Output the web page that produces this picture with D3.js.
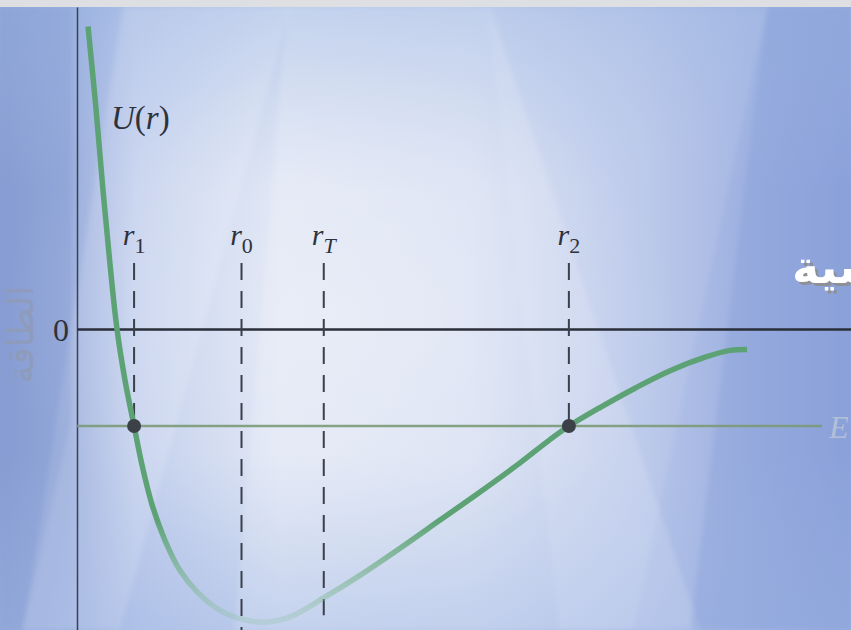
<!DOCTYPE html>
<html>
<head>
<meta charset="utf-8">
<script src="https://cdn.jsdelivr.net/npm/d3@7"></script>
<style>
  html, body { margin: 0; padding: 0; background: #dcdde0; }
  svg { display: block; }
</style>
</head>
<body>
<svg id="chart" width="851" height="630"></svg>
<script>
// Potential energy U(r) sampled along the separation r (r0 = 1 unit)
const rValues = [0.067, 0.116, 0.158, 0.201, 0.243, 0.292, 0.347, 0.395, 0.456, 0.535, 0.626, 0.736, 0.869, 1.021, 1.161, 1.307, 1.502, 1.720, 1.964, 2.207, 2.450, 2.693, 2.875, 2.991, 3.179, 3.392, 3.605, 3.818, 3.970, 4.073];
const uValues = [3.12, 2.26, 1.43, 0.66, 0.0, -0.53, -1.0, -1.40, -1.81, -2.18, -2.49, -2.72, -2.90, -3.00, -3.02, -2.96, -2.77, -2.54, -2.26, -1.97, -1.68, -1.38, -1.14, -1.0, -0.81, -0.61, -0.43, -0.29, -0.22, -0.21];

// Total energy level E
const energyE = -1.0;

// Marked separations: symbol, subscript, position and where the dashed guide stops
const markerBase = ["r", "r", "r", "r"];
const markerSub = ["1", "0", "T", "2"];
const markerR = [0.347, 1.0, 1.50, 2.99];
const markerEnd = [-1.0, -3.2, -2.95, -1.0];
const markerTop = 0.68;

// Turning points on the E line
const turningR = [0.347, 2.99];

const yTickValues = [0];
const yTickLabels = ["0"];

const W = 851, H = 630;
const svg = d3.select("#chart");
const defs = svg.append("defs");

// ---------- background ----------
const hg = defs.append("linearGradient").attr("id", "bgH").attr("x1", 0).attr("x2", 1).attr("y1", 0).attr("y2", 0);
[[0, "#889dd2"], [0.08, "#97abdb"], [0.16, "#c0cdec"], [0.33, "#dde4f3"], [0.55, "#d6def1"], [0.75, "#b8c6e9"], [0.88, "#9db0e0"], [1, "#8ea4da"]]
  .forEach(([o, c]) => hg.append("stop").attr("offset", o).attr("stop-color", c));

const vg = defs.append("linearGradient").attr("id", "bgV").attr("x1", 0).attr("x2", 0).attr("y1", 0).attr("y2", 1);
[[0, "#9ab4e2", 0.55], [0.3, "#b0c4ea", 0.0], [0.72, "#a8bde6", 0.0], [1, "#9fb6e4", 0.55]]
  .forEach(([o, c, a]) => vg.append("stop").attr("offset", o).attr("stop-color", c).attr("stop-opacity", a));

const rg = defs.append("radialGradient").attr("id", "glow").attr("cx", 0.4).attr("cy", 0.5).attr("r", 0.4);
rg.append("stop").attr("offset", 0).attr("stop-color", "#ffffff").attr("stop-opacity", 0.25);
rg.append("stop").attr("offset", 1).attr("stop-color", "#ffffff").attr("stop-opacity", 0);

defs.append("filter").attr("id", "soft").attr("x", -0.1).attr("y", -0.1).attr("width", 1.2).attr("height", 1.2)
  .append("feGaussianBlur").attr("stdDeviation", 2.5);

const shadow = defs.append("filter").attr("id", "headShadow").attr("x", -0.2).attr("y", -0.2).attr("width", 1.5).attr("height", 1.5);
shadow.append("feDropShadow").attr("dx", 3).attr("dy", 3).attr("stdDeviation", 0.6)
  .attr("flood-color", "#8e9098").attr("flood-opacity", 1);

const bg = svg.append("g");
bg.append("rect").attr("width", W).attr("height", H).attr("fill", "url(#bgH)");
bg.append("rect").attr("width", W).attr("height", H).attr("fill", "url(#bgV)");
bg.append("rect").attr("width", W).attr("height", H).attr("fill", "url(#glow)");

const beams = bg.append("g").attr("filter", "url(#soft)");
// soft light beams crossing the panel
beams.append("polygon").attr("points", "287,7 490,7 700,630 235,630").attr("fill", "#ffffff").attr("opacity", 0.14);
beams.append("polygon").attr("points", "123,7 290,7 120,630 23,630").attr("fill", "#ffffff").attr("opacity", 0.14);
beams.append("polygon").attr("points", "487,7 767,7 633,630 560,630").attr("fill", "#ffffff").attr("opacity", 0.08);
beams.append("polygon").attr("points", "767,7 851,7 851,630 690,630").attr("fill", "#7f98d4").attr("opacity", 0.28);
beams.append("polygon").attr("points", "0,7 72,7 72,420 23,630 0,630").attr("fill", "#7f96cf").attr("opacity", 0.25);

// top window strip
bg.append("rect").attr("x", 0).attr("y", 0).attr("width", W).attr("height", 7).attr("fill", "#dedfe2");

// ---------- scales ----------
const x = d3.scaleLinear().domain([0, 4.705]).range([77, 851]);
const y = d3.scaleLinear().domain([-3.103, 3.32]).range([630, 7]);

const ink = "#2e323d";

// y axis (vertical line with the single 0 tick)
const yAxis = svg.append("g").attr("transform", `translate(${x(0)},0)`)
  .call(d3.axisLeft(y).tickValues(yTickValues).tickFormat((d, i) => yTickLabels[i]).tickSize(0).tickSizeOuter(0).tickPadding(8));
yAxis.select(".domain").attr("stroke", "#3a4055").attr("stroke-width", 1.5);
yAxis.selectAll("text").attr("font-family", "'Liberation Serif', 'DejaVu Serif', serif").attr("font-size", 32)
  .attr("fill", ink).attr("dy", "0.36em");

// zero line
const xAxis = svg.append("g").attr("transform", `translate(0,${y(0)})`)
  .call(d3.axisBottom(x).tickValues([]).tickSizeOuter(0));
xAxis.select(".domain").attr("stroke", "#2a2e38").attr("stroke-width", 2.4);

// Arabic axis title
svg.append("text")
  .attr("transform", `translate(33,${y(-0.06)}) rotate(-90)`)
  .attr("text-anchor", "middle")
  .attr("font-family", "'DejaVu Sans', sans-serif")
  .attr("font-size", 36)
  .attr("fill", "#8e9bba")
  .text("الطاقة");

// energy level line E
svg.append("line")
  .attr("x1", x(0)).attr("x2", 822)
  .attr("y1", y(energyE)).attr("y2", y(energyE))
  .attr("stroke", "#7c9a78").attr("stroke-width", 2.4).attr("opacity", 0.9);
svg.append("text")
  .attr("x", 829).attr("y", y(energyE) + 12)
  .attr("font-family", "'Liberation Serif', serif").attr("font-style", "italic")
  .attr("font-size", 32).attr("fill", "#b3bfd8")
  .text("E");

// dashed guides and their labels
markerR.forEach((r, i) => {
  svg.append("line")
    .attr("x1", x(r)).attr("x2", x(r))
    .attr("y1", y(markerTop)).attr("y2", y(markerEnd[i]))
    .attr("stroke", "#3a3f4c").attr("stroke-width", 2)
    .attr("stroke-dasharray", "17,11");
  const t = svg.append("text")
    .attr("x", x(r)).attr("y", y(markerTop) - 18)
    .attr("text-anchor", "middle")
    .attr("font-family", "'Liberation Serif', 'DejaVu Serif', serif")
    .attr("fill", ink);
  t.append("tspan").attr("font-style", "italic").attr("font-size", 30).text(markerBase[i]);
  t.append("tspan").attr("font-size", 22).attr("dy", 8)
    .attr("font-style", markerSub[i] === "T" ? "italic" : "normal").text(markerSub[i]);
});

// curve label
const ul = svg.append("text").attr("x", 111).attr("y", 129)
  .attr("font-family", "'Liberation Serif', 'DejaVu Serif', serif").attr("font-size", 33).attr("fill", ink);
ul.append("tspan").attr("font-style", "italic").text("U");
ul.append("tspan").text("(");
ul.append("tspan").attr("font-style", "italic").text("r");
ul.append("tspan").text(")");

// potential energy curve, fading toward the well bottom
const cg = defs.append("linearGradient").attr("id", "curveFade").attr("gradientUnits", "userSpaceOnUse")
  .attr("x1", 0).attr("x2", 0).attr("y1", 520).attr("y2", 625);
cg.append("stop").attr("offset", 0).attr("stop-color", "#5ca275").attr("stop-opacity", 1);
cg.append("stop").attr("offset", 1).attr("stop-color", "#8cc0a0").attr("stop-opacity", 0.25);

const pts = rValues.map((r, i) => [r, uValues[i]]);
const line = d3.line().x(d => x(d[0])).y(d => y(d[1])).curve(d3.curveCatmullRom.alpha(0.5));
svg.append("path")
  .attr("d", line(pts))
  .attr("fill", "none")
  .attr("stroke", "url(#curveFade)")
  .attr("stroke-width", 5.5)
  .attr("stroke-linecap", "butt");

// turning-point dots
svg.selectAll("circle.turn").data(turningR).enter().append("circle")
  .attr("class", "turn")
  .attr("cx", d => x(d)).attr("cy", y(energyE)).attr("r", 7)
  .attr("fill", "#3c4148");

// heading fragment at the right edge
svg.append("text")
  .attr("x", 792).attr("y", 283)
  .attr("font-family", "'DejaVu Sans', sans-serif").attr("font-weight", "bold").attr("font-size", 46)
  .attr("fill", "#ffffff").attr("filter", "url(#headShadow)")
  .text("ـسية");
</script>
</body>
</html>
